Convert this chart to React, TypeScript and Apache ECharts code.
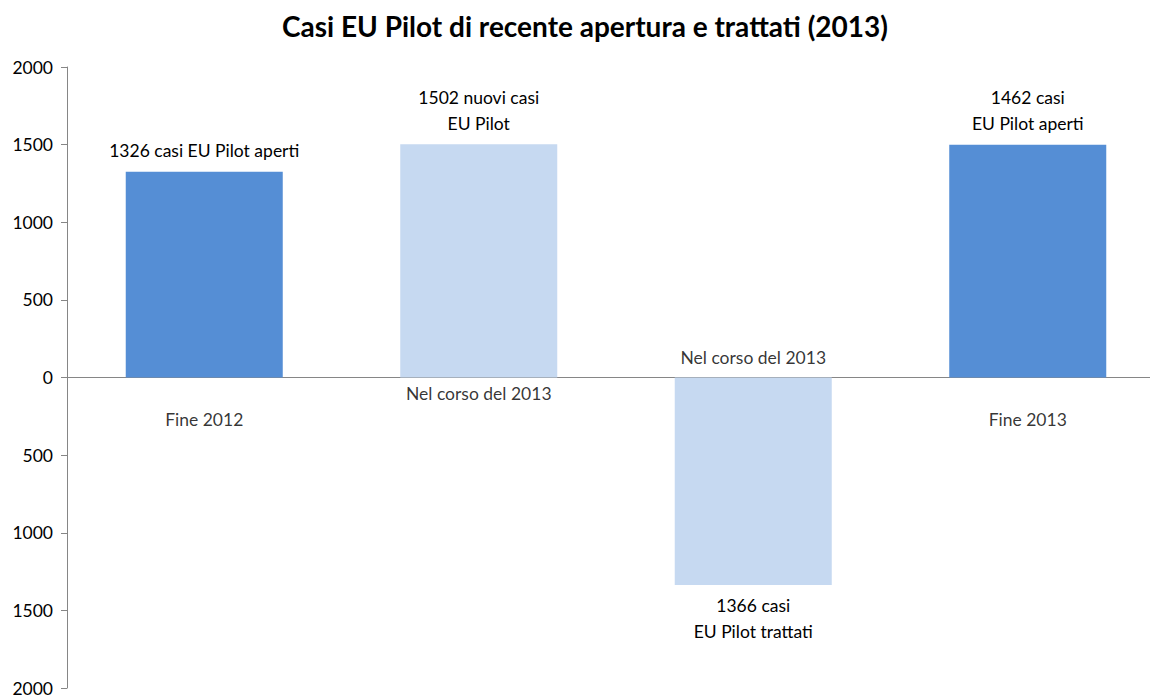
import React, { useEffect, useRef } from "react";
import * as echarts from "echarts";

const title = "Casi EU Pilot di recente apertura e trattati (2013)";
const categories = ["Fine 2012", "Nel corso del 2013", "Nel corso del 2013", "Fine 2013"];
const barKinds = ["stock", "flow", "flow", "stock"];
const values = [1326, 1502, -1336, 1500];
const valueLabels = [
  "1326 casi EU Pilot aperti",
  "1502 nuovi casi\nEU Pilot",
  "1366 casi\nEU Pilot trattati",
  "1462 casi\nEU Pilot aperti",
];
const yMin = -2000;
const yMax = 2000;
const yInterval = 500;

const FONT = "Lato";
const DARK = "#558ED5";
const LIGHT = "#C6D9F1";
const AXIS = "#868686";

export default function App() {
  const ref = useRef<HTMLDivElement>(null);
  useEffect(() => {
    if (!ref.current) return;
    const chart = echarts.init(ref.current, undefined, { renderer: "svg" });
    const labelStyle = { color: "#000", fontFamily: FONT, fontSize: 17.5, lineHeight: 26 };
    chart.setOption({
      animation: false,
      backgroundColor: "#fff",
      title: {
        text: title,
        left: 580,
        textAlign: "center",
        top: 7,
        textStyle: { fontFamily: FONT, fontWeight: "bold", fontSize: 28, color: "#000" },
      },
      grid: {
        left: 67,
        width: 1098,
        top: 67,
        bottom: 7,
        containLabel: false,
        outerBoundsMode: "none",
      },
      xAxis: {
        type: "category",
        data: categories,
        axisLine: { onZero: true, lineStyle: { color: AXIS, width: 1 } },
        axisTick: { show: false },
        axisLabel: { show: false },
        splitLine: { show: false },
      },
      yAxis: {
        type: "value",
        min: yMin,
        max: yMax,
        interval: yInterval,
        axisLine: { show: true, lineStyle: { color: AXIS, width: 1 } },
        axisTick: { show: true, length: 6, lineStyle: { color: AXIS } },
        splitLine: { show: false },
        axisLabel: {
          margin: 14,
          color: "#000",
          fontFamily: FONT,
          fontSize: 17.5,
          formatter: (v: number) => String(Math.abs(v)),
        },
      },
      series: [
        {
          type: "bar",
          barWidth: "57.2%",
          data: values.map((v, i) => ({
            value: v,
            itemStyle: { color: barKinds[i] === "stock" ? DARK : LIGHT },
            label: {
              show: true,
              position: v < 0 ? "bottom" : "top",
              distance: 8,
              formatter: valueLabels[i],
              ...labelStyle,
            },
          })),
        },
        {
          type: "scatter",
          symbolSize: 0,
          silent: true,
          data: categories.map((c, i) => ({
            value: 0,
            label: {
              show: true,
              position: values[i] < 0 ? "top" : "bottom",
              distance: barKinds[i] === "stock" ? 29 : values[i] < 0 ? 7 : 3,
              formatter: c,
              ...labelStyle,
            },
          })),
        },
      ],
    });
    return () => chart.dispose();
  }, []);
  return (
    <div
      ref={ref}
      style={{ position: "fixed", left: 0, top: 0, width: 1150, height: 695, background: "#fff" }}
    />
  );
}
